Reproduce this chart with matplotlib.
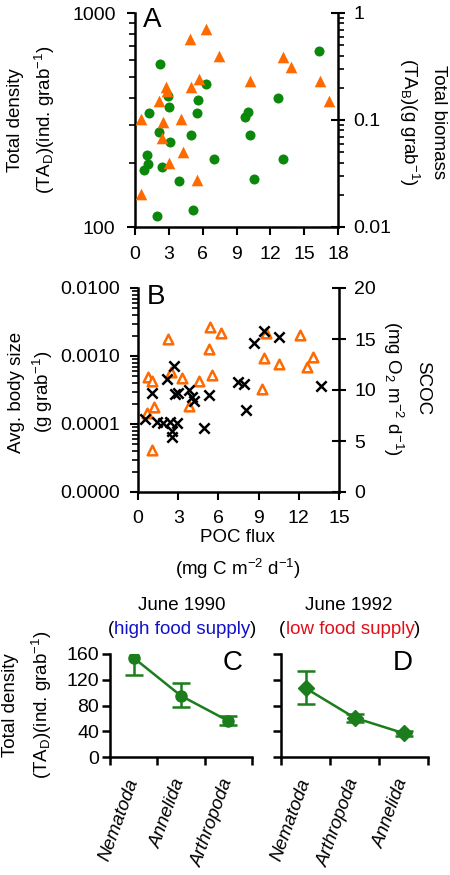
import matplotlib
matplotlib.use("Agg")
import matplotlib.pyplot as plt
from matplotlib.ticker import FixedLocator, NullFormatter, LogLocator
import numpy as np

plt.rcParams['font.family'] = ['Liberation Sans', 'DejaVu Sans']
plt.rcParams['mathtext.fontset'] = 'custom'
plt.rcParams['mathtext.rm'] = 'Liberation Sans'
plt.rcParams['mathtext.it'] = 'Liberation Sans:italic'
plt.rcParams['mathtext.bf'] = 'Liberation Sans:bold'
plt.rcParams['mathtext.default'] = 'regular'

# ---------------- data ----------------
# Panel A: total density (green circles, left axis) vs POC flux
a_density_x = [2.23, 2.91, 1.27, 3.00, 6.30, 5.61, 5.50, 4.99, 3.12, 2.11, 10.01, 9.78, 10.19,
               12.66, 16.31, 1.10, 1.19, 0.80, 2.41, 3.86, 7.04, 13.16, 10.58, 5.17, 1.93]
a_density_y = [578, 409, 340, 363, 467, 392, 341, 269, 250, 277, 346, 326, 270,
               399, 662, 216, 196, 185, 191, 164, 207, 207, 168, 120, 113]
# Panel A: total biomass (orange triangles, right axis)
a_biomass_x = [0.51, 2.14, 2.52, 2.43, 2.79, 2.85, 4.07, 4.84, 4.99, 5.70, 6.27, 7.49, 10.22,
               13.16, 13.81, 16.37, 17.17, 4.25, 3.00, 5.46, 0.56]
a_biomass_y = [0.102, 0.151, 0.0958, 0.0675, 0.202, 0.188, 0.102, 0.575, 0.202, 0.243, 0.708,
               0.399, 0.233, 0.385, 0.311, 0.230, 0.151, 0.0499, 0.0399, 0.0273, 0.0202]

# Panel B: average body size (open orange triangles, left axis)
b_size_x = [0.77, 1.07, 2.22, 2.44, 3.26, 4.55, 5.37, 5.32, 6.22, 5.50, 3.78, 1.19, 0.69,
            9.53, 9.40, 10.52, 9.23, 12.09, 13.08, 12.59, 1.02]
b_size_y = [4.96e-4, 4.28e-4, 1.76e-3, 5.82e-4, 4.70e-4, 4.28e-4, 2.70e-3, 1.28e-3, 2.16e-3,
            5.26e-4, 1.84e-4, 1.76e-4, 1.47e-4, 2.16e-3, 9.44e-4, 7.55e-4, 3.24e-4, 2.04e-3,
            9.57e-4, 6.82e-4, 4.15e-5]
# Panel B: SCOC (black crosses, right axis)
b_scoc_x = [2.69, 2.19, 1.02, 2.76, 3.01, 3.81, 4.05, 4.20, 5.32, 7.44, 7.91, 8.04, 8.66, 9.40,
            10.50, 13.66, 0.52, 1.42, 1.89, 2.39, 2.91, 2.51, 2.51, 4.96]
b_scoc_y = [12.35, 11.05, 9.74, 9.61, 9.68, 10.0, 9.34, 8.95, 9.51, 10.75, 10.59, 8.04, 14.58,
            15.81, 15.17, 10.42, 7.13, 6.89, 6.74, 6.89, 6.74, 6.01, 5.36, 6.32]

# Panel C (June 1990)
c_taxa = ['Nematoda', 'Annelida', 'Arthropoda']
c_mean = [154, 95, 56]
c_low = [127, 77, 50]
c_high = [164, 115, 63]
# Panel D (June 1992)
d_taxa = ['Nematoda', 'Arthropoda', 'Annelida']
d_mean = [107, 61, 37]
d_low = [82, 55, 33]
d_high = [133, 67, 40]

# ---------------- style ----------------
GREEN = '#0b870b'
DGREEN = '#1b7d1b'
ORANGE = '#ff6a00'
BLUE = '#1111cc'
RED = '#e0101a'
TICK_FS = 14
LAB_FS = 13.5
W, H = 450, 875

fig = plt.figure(figsize=(W / 100, H / 100), dpi=100)


def rect(l, r, t, b):
    return [l / W, 1 - b / H, (r - l) / W, (b - t) / H]


def ftext(x, y, s, **kw):
    return fig.text(x / W, 1 - y / H, s, **kw)


def style(ax, pad=7):
    ax.tick_params(which='major', direction='out', length=6, width=1.5, labelsize=TICK_FS, pad=pad)
    ax.tick_params(which='minor', direction='out', length=4, width=1.2)
    for s in ax.spines.values():
        s.set_linewidth(1.8)
    ax.spines['top'].set_visible(False)


# ---------------- Panel A ----------------
axA = fig.add_axes(rect(135, 338, 13, 227))
axA.scatter(a_density_x, a_density_y, s=52, color=GREEN, marker='o', zorder=3, linewidths=0)
axA.set_xlim(0, 18)
axA.set_xticks(range(0, 19, 3))
axA.set_yscale('log')
axA.set_ylim(100, 1000)
axA.yaxis.set_major_locator(FixedLocator([100, 1000]))
axA.set_yticklabels(['100', '1000'])
axA.yaxis.set_minor_locator(LogLocator(base=10, subs=np.arange(2, 10)))
axA.yaxis.set_minor_formatter(NullFormatter())
style(axA, pad=8)
axA.spines['right'].set_visible(False)

axA2 = axA.twinx()
axA2.scatter(a_biomass_x, a_biomass_y, s=70, color=ORANGE, marker='^', zorder=3, linewidths=0)
axA2.set_yscale('log')
axA2.set_ylim(0.01, 1)
axA2.yaxis.set_major_locator(FixedLocator([0.01, 0.1, 1]))
axA2.set_yticklabels(['0.01', '0.1', '1'])
axA2.yaxis.set_minor_locator(LogLocator(base=10, subs=np.arange(2, 10)))
axA2.yaxis.set_minor_formatter(NullFormatter())
style(axA2, pad=6)
axA2.tick_params(axis='y', which='major', direction='inout', length=10)
axA2.spines['left'].set_visible(False)
axA2.spines['bottom'].set_visible(False)
axA.text(0.085, 0.965, 'A', transform=axA.transAxes, fontsize=20, ha='center', va='center')

ftext(16, 120, 'Total density', rotation=90, ha='center', va='center', fontsize=LAB_FS)
ftext(45, 120, '(TA$_\\mathregular{D}$)(ind. grab$^{-1}$)', rotation=90, ha='center', va='center', fontsize=LAB_FS)
ftext(438, 122, 'Total biomass', rotation=270, ha='center', va='center', fontsize=LAB_FS)
ftext(409, 122, '(TA$_\\mathregular{B}$)(g grab$^{-1}$)', rotation=270, ha='center', va='center', fontsize=LAB_FS)

# ---------------- Panel B ----------------
axB = fig.add_axes(rect(138, 339, 288, 492))
axB.scatter(b_size_x, b_size_y, s=48, facecolors='white', edgecolors=ORANGE, marker='^',
            linewidths=1.8, zorder=3)
axB.set_xlim(0, 15)
axB.set_xticks(range(0, 16, 3))
axB.set_yscale('log')
axB.set_ylim(1e-5, 1e-2)
axB.yaxis.set_major_locator(FixedLocator([1e-5, 1e-4, 1e-3, 1e-2]))
axB.set_yticklabels(['0.0000', '0.0001', '0.0010', '0.0100'])
axB.yaxis.set_minor_locator(LogLocator(base=10, subs=np.arange(2, 10)))
axB.yaxis.set_minor_formatter(NullFormatter())
style(axB, pad=7)
axB.spines['right'].set_visible(False)

axB2 = axB.twinx()
axB2.scatter(b_scoc_x, b_scoc_y, s=55, color='black', marker='x', linewidths=1.8, zorder=4)
axB2.set_ylim(0, 20)
axB2.set_yticks(range(0, 21, 5))
style(axB2, pad=6)
axB2.tick_params(axis='y', which='major', direction='inout', length=10)
axB2.spines['left'].set_visible(False)
axB2.spines['bottom'].set_visible(False)
axB.text(0.09, 0.955, 'B', transform=axB.transAxes, fontsize=20, ha='center', va='center')

ftext(17, 392, 'Avg. body size', rotation=90, ha='center', va='center', fontsize=LAB_FS)
ftext(43, 392, '(g grab$^{-1}$)', rotation=90, ha='center', va='center', fontsize=LAB_FS)
ftext(423, 388, 'SCOC', rotation=270, ha='center', va='center', fontsize=LAB_FS)
ftext(393, 388, '(mg O$_2$ m$^{-2}$ d$^{-1}$)', rotation=270, ha='center', va='center', fontsize=LAB_FS)
ftext(237.5, 538, 'POC flux', ha='center', va='center', fontsize=LAB_FS)
ftext(237.5, 569, '(mg C m$^{-2}$ d$^{-1}$)', ha='center', va='center', fontsize=LAB_FS)


# ---------------- Panels C & D ----------------
def cat_panel(ax, taxa, mean, low, high, marker, ms, show_y):
    xs = np.arange(len(taxa)) + 0.5
    m = np.array(mean)
    yerr = [m - np.array(low), np.array(high) - m]
    ax.errorbar(xs, m, yerr=yerr, color=DGREEN, marker=marker, ms=ms, lw=1.8,
                elinewidth=1.8, capsize=6.5, capthick=1.8, zorder=3)
    ax.set_xlim(0, len(taxa))
    ax.set_ylim(0, 160)
    ax.set_yticks([0, 40, 80, 120, 160])
    ax.set_xticks(range(len(taxa) + 1))
    ax.set_xticklabels([])
    ax.set_xticks(xs, minor=True)
    ax.set_xticklabels(taxa, minor=True)
    for s in ax.spines.values():
        s.set_linewidth(1.8)
    ax.spines['top'].set_visible(False)
    ax.spines['right'].set_visible(False)
    ax.tick_params(which='major', direction='out', length=6, width=1.8, labelsize=TICK_FS, pad=2)
    ax.tick_params(axis='x', which='minor', length=0, labelsize=13.5, pad=16)
    for lab in ax.get_xticklabels(minor=True):
        lab.set_rotation(70)
        lab.set_ha('right')
        lab.set_va('center')
        lab.set_rotation_mode('anchor')
        lab.set_fontstyle('italic')
    if not show_y:
        ax.set_yticklabels([])


axC = fig.add_axes(rect(110, 252, 654, 757))
cat_panel(axC, c_taxa, c_mean, c_low, c_high, 'o', 8, True)
axD = fig.add_axes(rect(281, 428, 654, 757))
cat_panel(axD, d_taxa, d_mean, d_low, d_high, 'D', 8, False)
ftext(233, 663, 'C', fontsize=20, ha='center', va='center')
ftext(403, 663, 'D', fontsize=20, ha='center', va='center')

ftext(11, 705, 'Total density', rotation=90, ha='center', va='center', fontsize=LAB_FS)
ftext(42, 705, '(TA$_\\mathregular{D}$)(ind. grab$^{-1}$)', rotation=90, ha='center', va='center', fontsize=LAB_FS)

ftext(182, 605, 'June 1990', ha='center', va='center', fontsize=LAB_FS)
ftext(349, 605, 'June 1992', ha='center', va='center', fontsize=LAB_FS)

renderer = fig.canvas.get_renderer()


def color_line(xc, y, parts):
    widths = []
    for s, c in parts:
        t = ftext(0, y, s, fontsize=LAB_FS)
        widths.append(t.get_window_extent(renderer).width)
        t.remove()
    x0 = xc - sum(widths) / 2
    for (s, c), w in zip(parts, widths):
        ftext(x0, y, s, color=c, ha='left', va='center', fontsize=LAB_FS)
        x0 += w


color_line(182, 630, [('(', 'black'), ('high food supply', BLUE), (')', 'black')])
color_line(350, 630, [('(', 'black'), ('low food supply', RED), (')', 'black')])

fig.savefig('out.png', dpi=100)
